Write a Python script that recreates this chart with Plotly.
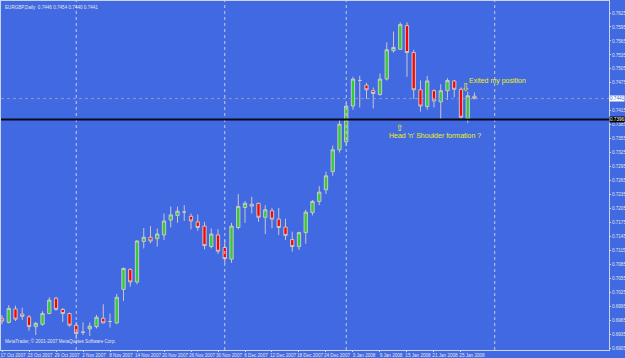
import plotly.graph_objects as go
import pandas as pd

# ---------------- data ----------------
dates = (
    ["2007-10-%02d" % d for d in [17, 18, 19, 22, 23, 24, 25, 26, 29, 30, 31]]
    + ["2007-11-%02d" % d for d in [1, 2, 5, 6, 7, 8, 9, 12, 13, 14, 15, 16, 19, 20, 21, 22, 23, 26, 27, 28, 29, 30]]
    + ["2007-12-%02d" % d for d in [3, 4, 5, 6, 7, 10, 11, 12, 13, 14, 17, 18, 19, 20, 21, 24, 27, 28]]
    + ["2008-01-%02d" % d for d in [2, 3, 4, 7, 8, 9, 10, 11, 14, 15, 16, 17, 18, 21, 22, 23, 24, 25, 28, 29]]
)

opens = [0.6969, 0.6960, 0.6989, 0.6978, 0.6972, 0.6951, 0.6956, 0.6979, 0.7012, 0.6988,
         0.6979, 0.6954, 0.6939, 0.6946, 0.6951, 0.6969, 0.6962, 0.6959, 0.7031, 0.7074,
         0.7047, 0.7134, 0.7143, 0.7140, 0.7148, 0.7180, 0.7190, 0.7197, 0.7188, 0.7176,
         0.7167, 0.7123, 0.7148, 0.7121, 0.7096, 0.7164, 0.7207, 0.7214, 0.7216, 0.7186,
         0.7200, 0.7182, 0.7165, 0.7138, 0.7123, 0.7153, 0.7196, 0.7220, 0.7245, 0.7284,
         0.7331, 0.7348, 0.7425, 0.7480, 0.7470, 0.7458, 0.7450, 0.7483, 0.7544, 0.7547,
         0.7598, 0.7540, 0.7460, 0.7424, 0.7458, 0.7434, 0.7458, 0.7479, 0.7461, 0.7398,
         0.7446]
highs = [0.6976, 0.6997, 0.6996, 0.6992, 0.6976, 0.6961, 0.6984, 0.7014, 0.7015, 0.6991,
         0.6981, 0.6961, 0.6960, 0.6960, 0.6976, 0.6999, 0.6979, 0.7021, 0.7078, 0.7076,
         0.7137, 0.7163, 0.7167, 0.7162, 0.7194, 0.7209, 0.7209, 0.7212, 0.7194, 0.7192,
         0.7176, 0.7162, 0.7160, 0.7137, 0.7174, 0.7236, 0.7221, 0.7230, 0.7217, 0.7212,
         0.7206, 0.7206, 0.7183, 0.7155, 0.7155, 0.7202, 0.7223, 0.7253, 0.7284, 0.7340,
         0.7395, 0.7432, 0.7488, 0.7490, 0.7475, 0.7465, 0.7495, 0.7562, 0.7585, 0.7605,
         0.7605, 0.7546, 0.7480, 0.7490, 0.7461, 0.7472, 0.7485, 0.7481, 0.7465, 0.7456,
         0.7454]
lows = [0.6956, 0.6958, 0.6963, 0.6965, 0.6942, 0.6933, 0.6953, 0.6978, 0.6985, 0.6961,
        0.6951, 0.6924, 0.6933, 0.6931, 0.6947, 0.6958, 0.6949, 0.6956, 0.7006, 0.7037,
        0.7042, 0.7119, 0.7130, 0.7123, 0.7137, 0.7164, 0.7174, 0.7178, 0.7160, 0.7157,
        0.7117, 0.7119, 0.7107, 0.7087, 0.7088, 0.7160, 0.7174, 0.7194, 0.7176, 0.7150,
        0.7162, 0.7148, 0.7137, 0.7112, 0.7116, 0.7129, 0.7190, 0.7212, 0.7236, 0.7275,
        0.7325, 0.7339, 0.7417, 0.7422, 0.7440, 0.7420, 0.7447, 0.7480, 0.7540, 0.7546,
        0.7488, 0.7440, 0.7413, 0.7417, 0.7422, 0.7397, 0.7438, 0.7444, 0.7395, 0.7389,
        0.7440]
closes = [0.6963, 0.6990, 0.6967, 0.6973, 0.6951, 0.6958, 0.6979, 0.7008, 0.6988, 0.6979,
          0.6954, 0.6936, 0.6939, 0.6952, 0.6971, 0.6959, 0.6962, 0.7014, 0.7076, 0.7047,
          0.7135, 0.7143, 0.7135, 0.7150, 0.7178, 0.7191, 0.7199, 0.7197, 0.7178, 0.7164,
          0.7125, 0.7150, 0.7113, 0.7097, 0.7167, 0.7209, 0.7216, 0.7210, 0.7186, 0.7202,
          0.7182, 0.7164, 0.7147, 0.7123, 0.7153, 0.7197, 0.7220, 0.7240, 0.7275, 0.7331,
          0.7386, 0.7425, 0.7483, 0.7480, 0.7460, 0.7452, 0.7483, 0.7546, 0.7551, 0.7600,
          0.7540, 0.7460, 0.7425, 0.7479, 0.7436, 0.7458, 0.7480, 0.7461, 0.7401, 0.7447,
          0.7441]

support_level = 0.7396
price_ticks_top = 0.7625
price_tick_step = 0.0030
symbol_title = "EURGBP,Daily  0.7446 0.7454 0.7440 0.7441"
copyright_text = "MetaTrader, © 2001-2007 MetaQuotes Software Corp."
note_exit = "Exited my position"
note_hs = "Head 'n' Shoulder formation ?"

# ---------------- derived ----------------
dt = pd.to_datetime(dates)
idx = list(range(len(dates)))
tick_idx = idx[::4]
tick_txt = [f"{dt[i].day} {dt[i].strftime('%b %Y')}" for i in tick_idx]

future = pd.bdate_range(dt[-1] + pd.Timedelta(days=1), periods=25)
all_dt = list(dt) + list(future)
sep_idx = [i for i in range(1, len(all_dt)) if all_dt[i].month != all_dt[i - 1].month]

n_ticks = 25
price_ticks = [round(price_ticks_top - k * price_tick_step, 4) for k in range(n_ticks)]
price_ticks = [p for p in price_ticks if abs(p - closes[-1]) > 0.0010]

BG = "#4169E1"
FRAME = "#C9D3F5"
FONT = "Liberation Sans Narrow, Liberation Sans, Arial"
SMALL = dict(family=FONT, size=4.6, color="#E6E6E6")

fig = go.Figure()
fig.add_trace(go.Candlestick(
    x=idx, open=opens, high=highs, low=lows, close=closes,
    increasing=dict(line=dict(color="#C8C8C8", width=1), fillcolor="#32CD32"),
    decreasing=dict(line=dict(color="#C8C8C8", width=1), fillcolor="#FF0000"),
    whiskerwidth=0, showlegend=False, hoverinfo="skip",
))

shapes = []
for s in sep_idx:
    shapes.append(dict(type="line", xref="x", yref="paper", x0=s, x1=s, y0=0, y1=1,
                       line=dict(color="#C8CCE0", width=1, dash="dot")))
shapes.append(dict(type="line", xref="paper", yref="y", x0=0, x1=1, y0=closes[-1], y1=closes[-1],
                   line=dict(color="#8E98C0", width=1, dash="dot")))
shapes.append(dict(type="line", xref="paper", yref="y", x0=0, x1=1, y0=support_level, y1=support_level,
                   line=dict(color="#05081A", width=2)))

annotations = [
    dict(xref="paper", yref="paper", x=0.004, y=0.995, xanchor="left", yanchor="top",
         text=symbol_title, showarrow=False, font=SMALL),
    dict(xref="paper", yref="paper", x=0.004, y=0.012, xanchor="left", yanchor="bottom",
         text=copyright_text, showarrow=False, font=SMALL),
    dict(xref="paper", yref="y", x=1.0, y=closes[-1], xanchor="left", yanchor="middle",
         text="%.4f" % closes[-1], showarrow=False, bgcolor="#FFFFFF", borderpad=0,
         font=dict(family=FONT, size=4.6, color="#4169E1")),
    dict(xref="paper", yref="y", x=1.0, y=support_level, xanchor="left", yanchor="middle",
         text="%.4f" % support_level, showarrow=False, bgcolor="#000000", borderpad=0,
         font=dict(family=FONT, size=4.6, color="#FFFFFF")),
    dict(xref="x", yref="y", x=68.9, y=0.7479, xanchor="left", yanchor="middle",
         text=note_exit, showarrow=False, font=dict(family="Liberation Sans", size=7, color="#F2F20A")),
    dict(xref="x", yref="y", x=68.6, y=0.7464, xanchor="center", yanchor="middle",
         text="⇩", showarrow=False, font=dict(family="DejaVu Sans", size=11, color="#F2F20A")),
    dict(xref="x", yref="y", x=57.1, y=0.7362, xanchor="left", yanchor="middle",
         text=note_hs, showarrow=False, font=dict(family="Liberation Sans", size=7, color="#F2F20A")),
    dict(xref="x", yref="y", x=58.9, y=0.7378, xanchor="center", yanchor="middle",
         text="⇧", showarrow=False, font=dict(family="DejaVu Sans", size=9, color="#F2F20A")),
]

fig.update_layout(
    width=625, height=358,
    margin=dict(l=1, r=16, t=1, b=8, autoexpand=False),
    paper_bgcolor=BG, plot_bgcolor=BG,
    shapes=shapes, annotations=annotations,
    showlegend=False,
    xaxis=dict(range=[-0.15, 89.93], rangeslider=dict(visible=False), showgrid=False, zeroline=False,
               tickvals=tick_idx, ticktext=tick_txt, tickangle=0, automargin=False,
               ticks="outside", ticklen=1, tickcolor=FRAME,
               tickfont=SMALL, ticklabelshift=11, ticklabelstandoff=-1,
               showline=True, linecolor=FRAME, linewidth=1, mirror=True),
    yaxis=dict(range=[0.69007, 0.76508], side="right", showgrid=False, zeroline=False,
               tickvals=price_ticks, tickformat=".4f", automargin=False,
               ticks="outside", ticklen=1, tickcolor=FRAME,
               tickfont=SMALL, ticklabelstandoff=0,
               showline=True, linecolor=FRAME, linewidth=1, mirror=True),
)

fig.write_html("out.html")
